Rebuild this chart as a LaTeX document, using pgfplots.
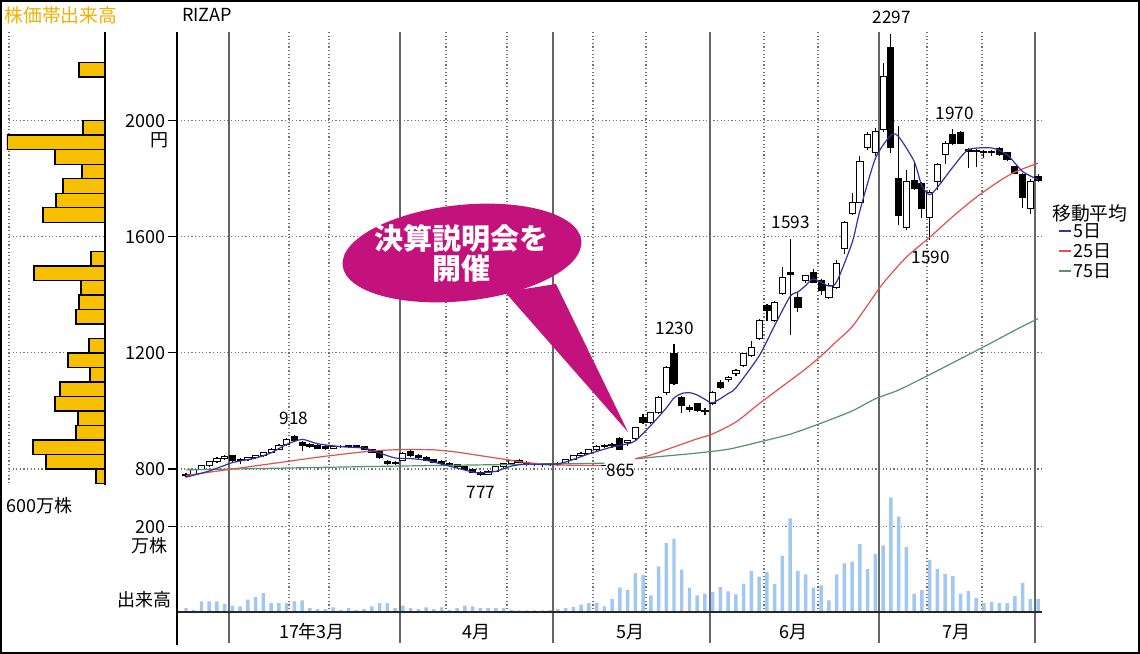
\documentclass[border=0pt]{standalone}
\usepackage{fontspec}
\setmainfont{Noto Sans CJK JP}
\usepackage{pgfplots}
\pgfplotsset{compat=1.18}
\usepackage{pgfplotstable}
\definecolor{gold}{RGB}{246,192,0}
\definecolor{goldtext}{RGB}{240,176,0}
\definecolor{ma5}{RGB}{50,50,170}
\definecolor{ma25}{RGB}{228,80,80}
\definecolor{ma75}{RGB}{80,150,100}
\definecolor{vol}{RGB}{160,200,240}
\definecolor{callout}{RGB}{196,18,124}
\newcommand{\fa}{\fontsize{9bp}{10bp}\selectfont}
\newcommand{\fb}{\fontsize{9.4bp}{10bp}\selectfont}
\newcommand{\fn}{\fontsize{8.6bp}{10bp}\selectfont}

\pgfplotstableread{
i O H L C
0 776 786 772 782
1 782 800 780 797
2 797 815 795 812
3 812 828 808 825
4 825 840 820 836
5 836 848 830 842
6 846 849 825 828
7 828 838 816 833
8 833 840 828 838
9 838 848 835 845
10 845 860 842 858
11 858 872 855 868
12 868 886 865 882
13 884 906 880 902
14 912 918 895 898
15 892 896 862 882
16 886 890 872 876
17 882 885 868 872
18 878 882 866 870
19 872 880 868 876
20 876 882 872 879
21 879 884 874 881
22 881 884 872 875
23 876 880 866 868
24 868 870 855 858
25 860 862 835 838
26 825 830 815 820
27 818 826 814 822
28 828 860 826 855
29 862 866 840 845
30 848 852 836 840
31 840 845 826 830
32 832 836 820 824
33 826 832 814 818
34 818 824 810 814
35 814 818 805 808
36 808 812 795 798
37 798 802 785 788
38 788 792 777 782
39 782 795 780 792
40 792 812 790 808
41 808 822 805 818
42 818 832 815 828
43 830 835 820 824
44 824 828 812 816
45 816 822 810 814
46 814 820 808 818
47 818 822 810 815
48 815 825 810 820
49 820 836 818 832
50 832 848 830 845
51 845 858 842 855
52 855 870 852 866
53 866 882 862 878
54 878 886 872 880
55 880 888 874 884
56 905 910 865 868
57 890 900 880 897
58 904 945 900 942
59 976 990 955 960
60 960 995 955 993
61 993 1050 990 1045
62 1063 1155 1055 1149
63 1197 1230 1090 1094
64 1045 1050 993 1018
65 1012 1020 995 1005
66 1025 1028 995 1000
67 1000 1010 985 998
68 1025 1068 1020 1063
69 1097 1105 1075 1080
70 1108 1120 1100 1115
71 1128 1145 1120 1139
72 1156 1200 1150 1197
73 1190 1240 1185 1218
74 1249 1318 1245 1311
75 1363 1370 1310 1346
76 1311 1380 1305 1374
77 1405 1495 1400 1460
78 1477 1593 1260 1470
79 1391 1410 1340 1357
80 1450 1470 1440 1467
81 1477 1490 1440 1443
82 1450 1455 1400 1415
83 1391 1440 1385 1433
84 1426 1520 1420 1509
85 1560 1655 1540 1650
86 1681 1750 1675 1719
87 1719 1880 1715 1858
88 1906 1960 1900 1951
89 1892 1975 1880 1962
90 1968 2200 1960 2152
91 2252 2297 1890 1906
92 1802 1980 1640 1675
93 1633 1830 1625 1789
94 1795 1854 1760 1768
95 1785 1790 1664 1699
96 1668 1760 1590 1751
97 1789 1855 1760 1848
98 1882 1930 1850 1923
99 1951 1970 1915 1923
100 1958 1965 1920 1923
101 1900 1905 1837 1895
102 1897 1902 1840 1893
103 1895 1900 1870 1890
104 1892 1900 1880 1895
105 1905 1910 1880 1885
106 1889 1892 1860 1865
107 1841 1845 1815 1819
108 1813 1820 1700 1737
109 1699 1800 1680 1789
110 1806 1815 1790 1795
}\candles

\pgfplotstableread{
i v
0 9
1 5
2 25
3 25
4 25
5 19
6 15
7 13
8 29
9 35
10 44
11 21
12 21
13 21
14 25
15 27
16 9
17 7
18 7
19 11
20 5
21 9
22 5
23 7
24 13
25 21
26 21
27 9
28 15
29 9
30 7
31 11
32 7
33 11
34 5
35 9
36 15
37 13
38 9
39 9
40 9
41 9
42 5
43 4
44 4
45 4
46 4
47 5
48 7
49 9
50 12
51 17
52 21
53 22
54 13
55 31
56 57
57 51
58 91
59 86
60 39
61 107
62 161
63 171
64 99
65 57
66 39
67 43
68 47
69 58
70 48
71 41
72 66
73 96
74 83
75 93
76 66
77 132
78 219
79 96
80 88
81 57
82 62
83 27
84 88
85 114
86 118
87 159
88 101
89 136
90 156
91 268
92 223
93 152
94 43
95 51
96 122
97 101
98 89
99 84
100 43
101 49
102 33
103 21
104 23
105 21
106 21
107 37
108 68
109 31
110 31
}\volume

\pgfplotstableread{
p v
2175 163
1975 138
1925 612
1875 313
1825 144
1775 263
1725 306
1675 388
1525 88
1475 444
1425 150
1375 163
1325 181
1225 100
1175 231
1125 94
1075 281
1025 313
975 169
925 181
875 450
825 369
775 56
}\histo

\pgfplotsset{pricebase/.style={scale only axis, width=432.5bp, height=226.5bp,
  at={(88.5bp,-242.5bp)}, anchor=south west, xmin=-1.162, xmax=110.51,
  ymin=744.9, ymax=2305.5, hide axis}}

\begin{document}
\begin{tikzpicture}
\useasboundingbox (0,0) rectangle (570bp,-327bp);
\begin{scope}[x=0.5bp,y=-0.5bp]
\fill[white] (0,0) rectangle (1140,654);
\tikzset{dotg/.style={black!55, line width=0.6bp, dash pattern=on 0.6bp off 1.2bp}}
% histogram panel grid
\draw[dotg] (9,32) -- (9,485);
\foreach \yy in {469,352.9,236.8,120.7} {\draw[dotg] (9,\yy) -- (105,\yy);}
% main panel grid
\foreach \yy in {469,352.9,236.8,120.7,526.5} {\draw[dotg] (177,\yy) -- (1042,\yy);}
\foreach \xx in {289,329,446,507,593,646,764,818,927,982} {\draw[dotg] (\xx,32) -- (\xx,612);}
\foreach \xx in {229,400,553,710,879,1035} {\draw[black!60, line width=0.6bp] (\xx,32) -- (\xx,643);}
\end{scope}

% histogram of volume by price
\begin{axis}[scale only axis, width=49bp, height=226.5bp, at={(3.5bp,-242.5bp)}, anchor=south west,
  xmin=0, xmax=612.5, x dir=reverse, ymin=744.9, ymax=2305.5, hide axis, xbar, bar width=50]
\addplot[fill=gold, draw=black, line width=0.7bp] table[x=v, y=p] \histo;
\end{axis}

% wicks
\begin{axis}[pricebase]
\addplot[draw=none, mark=none, error bars/.cd, y dir=plus, y explicit, error mark=none,
  error bar style={draw=black, line width=0.55bp}]
  table[x=i, y=L, y error expr=\thisrow{H}-\thisrow{L}] \candles;
\end{axis}

% bodies
\begin{axis}[pricebase, ybar stacked, bar width=0.8]
\addplot[draw=none, fill=none] table[x=i, y expr={min(\thisrow{O},\thisrow{C})}] \candles;
\addplot[draw=black, line width=0.5bp, fill=white] table[x=i, y expr={\thisrow{C}<\thisrow{O} ? 0 : \thisrow{C}-\thisrow{O}}] \candles;
\addplot[draw=black, line width=0.5bp, fill=black] table[x=i, y expr={\thisrow{C}<\thisrow{O} ? \thisrow{O}-\thisrow{C} : 0}] \candles;
\end{axis}

% moving averages
\begin{axis}[pricebase]
\addplot[ma75, line width=0.6bp, smooth, tension=0.4] coordinates {(0,797) (27,810) (54,820)};
\addplot[ma75, line width=0.6bp, smooth, tension=0.4] coordinates {(58,835) (62,845) (66,855) (70,868) (74,893) (78,920) (82,958) (86,1000) (89,1042) (92,1072) (96,1125) (100,1180) (104,1235) (107,1278) (110,1318)};
\addplot[ma25, line width=0.6bp, smooth, tension=0.4] coordinates {(0,778) (6,800) (12,822) (18,844) (24,862) (28,867) (32,866) (35,858) (38,846) (41,834) (44,822) (48,814) (54,812)};
\addplot[ma25, line width=0.6bp, smooth, tension=0.4] coordinates {(58,836) (60,848) (63,876) (66,904) (68,921) (71,962) (74,1025) (77,1085) (80,1145) (82,1190) (84,1240) (86,1290) (88,1365) (90,1440) (93,1530) (96,1598) (99,1670) (102,1736) (105,1792) (107,1823) (110,1854)};
\addplot[ma5, line width=0.6bp, smooth, tension=0.4] coordinates {(0,772) (3,793) (6,822) (9,838) (11,856) (13,885) (15,902) (17,887) (20,877) (23,872) (25,855) (27,838) (29,836) (31,830) (33,817) (35,803) (37,790) (38,786) (40,792) (42,810) (44,817) (47,815) (49,824) (52,852) (55,876) (57,887) (58,897) (60,950) (62,1010) (63,1045) (64,1060) (65,1063) (66,1055) (67,1040) (68,1028) (70,1060) (71,1080) (74,1190) (76,1295) (78,1395) (79,1410) (80,1432) (81,1455) (83,1430) (84,1445) (86,1580) (87,1690) (89,1870) (91,1950) (92,1945) (94,1860) (95,1775) (96,1745) (97,1770) (99,1840) (101,1900) (104,1906) (106,1883) (108,1825) (110,1797)};
\end{axis}

% volume
\begin{axis}[scale only axis, width=432.5bp, height=61bp, at={(88.5bp,-306bp)}, anchor=south west,
  xmin=-1.162, xmax=110.51, ymin=0, ymax=285.3, hide axis, ybar, bar width=0.45]
\addplot[fill=vol, draw=none] table[x=i, y=v] \volume;
\end{axis}

\begin{scope}[x=0.5bp,y=-0.5bp]
% axis lines
\draw[black!85, line width=1.2bp] (177,612) -- (1042,612);
\draw[black, line width=0.7bp] (177,32) -- (177,645);
\draw[black, line width=0.6bp] (105,32) -- (105,485);
\foreach \yy in {469,352.9,236.8,120.7,526.5} {\draw[black, line width=0.6bp] (168,\yy) -- (177,\yy);}
% tick labels
\node[anchor=east, inner sep=0] at (166,121) {\fa 2000};
\node[inner sep=0] at (160,140) {\fa 円};
\node[anchor=east, inner sep=0] at (166,237) {\fa 1600};
\node[anchor=east, inner sep=0] at (166,353) {\fa 1200};
\node[anchor=east, inner sep=0] at (166,469) {\fa 800};
\node[anchor=east, inner sep=0] at (166,527) {\fa 200};
\node[inner sep=0] at (150,546) {\fa 万株};
\node[inner sep=0] at (145,600) {\fa 出来高};
% titles
\node[inner sep=0, text=goldtext] at (61,15) {\fb 株価帯出来高};
\node[inner sep=0] at (207,15) {\fa RIZAP};
\node[anchor=west, inner sep=0] at (6,506) {\fa 600万株};
% month labels
\node[inner sep=0] at (312,632) {\fa 17年3月};
\node[inner sep=0] at (477,632) {\fa 4月};
\node[inner sep=0] at (631,632) {\fa 5月};
\node[inner sep=0] at (794,632) {\fa 6月};
\node[inner sep=0] at (957,632) {\fa 7月};
% price annotations
\node[inner sep=0] at (294,418) {\fn 918};
\node[inner sep=0] at (481,492) {\fn 777};
\draw[black, line width=0.5bp] (601,466) -- (606,466);
\node[inner sep=0] at (621,470) {\fn 865};
\node[inner sep=0] at (675,328) {\fn 1230};
\node[inner sep=0] at (791,222) {\fn 1593};
\node[inner sep=0] at (892,17) {\fn 2297};
\node[inner sep=0] at (955,113) {\fn 1970};
\node[inner sep=0] at (931,257) {\fn 1590};
% legend
\node[inner sep=0] at (1090,213) {\fb 移動平均};
\draw[ma5, line width=0.8bp] (1059,231) -- (1071,231);
\node[anchor=west, inner sep=0] at (1073,231) {\fa 5日};
\draw[ma25, line width=0.8bp] (1059,251) -- (1071,251);
\node[anchor=west, inner sep=0] at (1073,251) {\fa 25日};
\draw[ma75, line width=0.8bp] (1059,271) -- (1071,271);
\node[anchor=west, inner sep=0] at (1073,271) {\fa 75日};
% callout
\fill[callout] (505,292) -- (628,432) -- (556,284) -- cycle;
\fill[callout, rotate around={6:(462,253)}] (462,253) ellipse [x radius=120, y radius=48];
\node[text=white, align=center, inner sep=0, font=\fontsize{14.5bp}{15bp}\selectfont\bfseries] at (462,253) {決算説明会を\\開催};
% frame
\draw[black, line width=1.2bp] (1.2,1.2) rectangle (1138.8,652.8);
\end{scope}
\end{tikzpicture}
\end{document}
